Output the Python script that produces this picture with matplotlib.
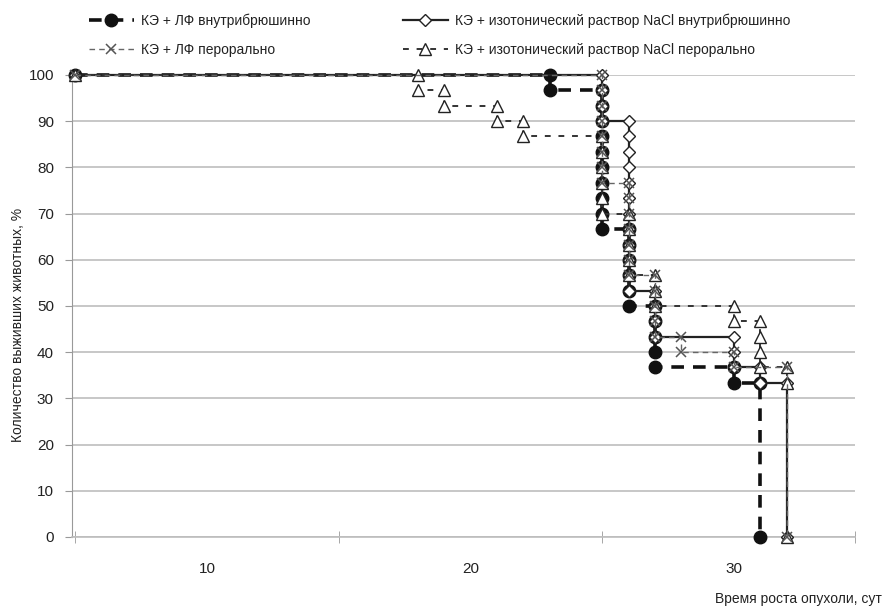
import matplotlib
matplotlib.use("Agg")
import matplotlib.pyplot as plt

plt.rcParams['font.family'] = ['Liberation Sans Narrow', 'Liberation Sans', 'DejaVu Sans']

# КЭ + ЛФ внутрибрюшинно
ipDays = [5, 23, 23, 25, 25, 25, 25, 25, 25, 25, 25, 25, 25, 26, 26, 26, 26, 26, 26,
          27, 27, 27, 27, 27, 30, 30, 31, 31]
ipSurv = [100, 100, 96.7, 96.7, 93.3, 90, 86.7, 83.3, 80, 76.7, 73.3, 70, 66.7, 66.7, 63.3, 60, 56.7, 53.3, 50,
          50, 46.7, 43.3, 40, 36.7, 36.7, 33.3, 33.3, 0]

# КЭ + ЛФ перорально
oralDays = [5, 25, 25, 25, 25, 25, 25, 25, 25, 26, 26, 26, 26, 26, 26, 26,
            27, 27, 27, 27, 27, 28, 28, 30, 30, 32, 32]
oralSurv = [100, 100, 96.7, 93.3, 90, 86.7, 83.3, 80, 76.7, 76.7, 73.3, 70, 66.7, 63.3, 60, 56.7,
            56.7, 53.3, 50, 46.7, 43.3, 43.3, 40, 40, 36.7, 36.7, 0]

# КЭ + изотонический раствор NaCl внутрибрюшинно
naclIpDays = [5, 25, 25, 25, 25, 26, 26, 26, 26, 26, 26, 26, 26, 26, 26, 26, 26,
              27, 27, 27, 27, 30, 30, 30, 31, 31, 32, 32]
naclIpSurv = [100, 100, 96.7, 93.3, 90, 90, 86.7, 83.3, 80, 76.7, 73.3, 70, 66.7, 63.3, 60, 56.7, 53.3,
              53.3, 50, 46.7, 43.3, 43.3, 40, 36.7, 36.7, 33.3, 33.3, 0]

# КЭ + изотонический раствор NaCl перорально
naclOralDays = [5, 18, 18, 19, 19, 21, 21, 22, 22, 25, 25, 25, 25, 25, 25, 26, 26, 26, 26, 26,
                27, 27, 27, 30, 30, 31, 31, 31, 31, 32, 32, 32]
naclOralSurv = [100, 100, 96.7, 96.7, 93.3, 93.3, 90, 90, 86.7, 86.7, 83.3, 80, 76.7, 73.3, 70, 70, 66.7, 63.3, 60, 56.7,
                56.7, 53.3, 50, 50, 46.7, 46.7, 43.3, 40, 36.7, 36.7, 33.3, 0]

labels = ['КЭ + ЛФ внутрибрюшинно', 'КЭ + ЛФ перорально',
          'КЭ + изотонический раствор NaCl внутрибрюшинно', 'КЭ + изотонический раствор NaCl перорально']

textColor = '#222222'

fig = plt.figure(figsize=(8.95, 6.13), dpi=100)
ax = fig.add_axes([0.0804, 0.124, 0.875, 0.7537])

# circles at the bottom of the stack, the open markers cover them in the drops
lIp, = ax.plot(ipDays, ipSurv, color='#111111', lw=2.6, ls=(0, (3.5, 2.5)),
               marker='o', ms=9, mfc='#111111', mec='#111111', zorder=3, clip_on=False)
lNaclIp, = ax.plot(naclIpDays, naclIpSurv, color='#222222', lw=1.6, ls='-',
                   marker='D', ms=6.5, mfc='white', mec='#222222', mew=1.0, zorder=4, clip_on=False)
lNaclOral, = ax.plot(naclOralDays, naclOralSurv, color='#333333', lw=1.4, ls=(0, (3, 4)),
                     marker='^', ms=9, mfc='white', mec='#222222', mew=1.0, zorder=5, clip_on=False)
lOral, = ax.plot(oralDays, oralSurv, color='#666666', lw=1.0, ls=(0, (4, 3)),
                 marker='x', ms=7, mew=1.1, mec='#555555', zorder=6, clip_on=False)

ax.set_xlim(4.87, 34.6)
ax.set_ylim(0, 100)
ax.set_yticks(range(0, 101, 10))
ax.set_xticks([10, 20, 30])
ax.set_xticks([5, 15, 25, 34.6], minor=True)
ax.tick_params(axis='x', which='major', length=0, pad=18, labelsize=11, labelcolor=textColor)
ax.tick_params(axis='x', which='minor', length=8, direction='inout', color='#999999')
ax.tick_params(axis='y', length=5, color='#999999', labelsize=11, labelcolor=textColor, pad=8)

ax.yaxis.grid(True, color='#bdbdbd', lw=1.2)
ax.set_axisbelow(True)
for s in ['top', 'right']:
    ax.spines[s].set_visible(False)
ax.spines['left'].set_color('#999999')
ax.spines['bottom'].set_color('#bdbdbd')
ax.spines['bottom'].set_linewidth(1.2)

fig.text(0.02, 0.47, 'Количество выживших животных, %', rotation=90, ha='center', va='center',
         fontsize=10, color=textColor)
fig.text(0.985, 0.012, 'Время роста опухоли, сут', ha='right', va='bottom', fontsize=10, color=textColor)

handles = [lIp, lOral, lNaclIp, lNaclOral]
leg = fig.legend(handles, [labels[0], labels[1], labels[2], labels[3]], loc='upper left',
                 bbox_to_anchor=(0.085, 0.998), ncol=2, frameon=False, fontsize=10,
                 handlelength=3.3, columnspacing=6.6, labelspacing=1.05, handletextpad=0.5)
for t in leg.get_texts():
    t.set_color(textColor)

fig.savefig('out.png', dpi=100)
